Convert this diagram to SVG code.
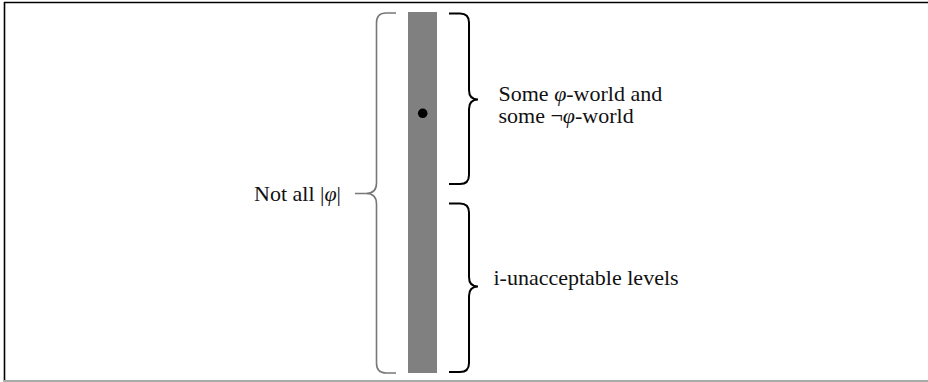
<svg xmlns="http://www.w3.org/2000/svg" width="928" height="382" viewBox="0 0 928 382">
  <style>
    .lbl { font-family: "Liberation Serif", "Times New Roman", serif; font-size: 22px; fill: #111; }
    .it { font-style: italic; }
    .brace-r { fill: none; stroke: #000; stroke-width: 2; }
    .brace-l { fill: none; stroke: #777; stroke-width: 1.6; }
  </style>
  <rect width="928" height="382" fill="#fff"/>
  <!-- frame -->
  <g id="frame">
    <line x1="4" y1="2.5" x2="928" y2="2.5" stroke="#000" stroke-width="1.6"/>
    <line x1="4.5" y1="2" x2="4.5" y2="382" stroke="#000" stroke-width="1.6"/>
    <line x1="4" y1="381" x2="928" y2="381" stroke="#aaa" stroke-width="2"/>
  </g>
  <!-- column of levels -->
  <g id="column">
    <rect x="408" y="12" width="29" height="361" fill="#808080"/>
    <circle cx="422.7" cy="113.3" r="4.8" fill="#000"/>
  </g>
  <g id="connectors">
    <!-- whole-column brace with leader -->
    <path class="brace-l" d="M396 13 H386 Q376.5 13 376.5 23 V183 Q376.5 193.5 366 193.5 H355 M366 193.5 Q376.5 193.5 376.5 204 V363 Q376.5 373 386 373 H396"/>
    <!-- upper brace -->
    <path class="brace-r" d="M449 13.5 H460 Q469 13.5 469 22.5 V90 Q469 99.5 478 99.5 Q469 99.5 469 109 V175 Q469 184 460 184 H449"/>
    <!-- lower brace -->
    <path class="brace-r" d="M449 203.5 H460 Q469 203.5 469 212.5 V277 Q469 286.5 478 286.5 Q469 286.5 469 296 V363 Q469 372 460 372 H449"/>
  </g>
  <g id="label-not-all">
    <text class="lbl" x="254" y="200.7">Not all |<tspan class="it">φ</tspan>|</text>
  </g>
  <g id="label-some">
    <text class="lbl" x="498.5" y="100.7">Some <tspan class="it">φ</tspan>-world and</text>
    <text class="lbl" x="498.5" y="122.7">some ¬<tspan class="it">φ</tspan>-world</text>
  </g>
  <g id="label-unacceptable">
    <text class="lbl" x="493.5" y="285">i-unacceptable levels</text>
  </g>
</svg>
